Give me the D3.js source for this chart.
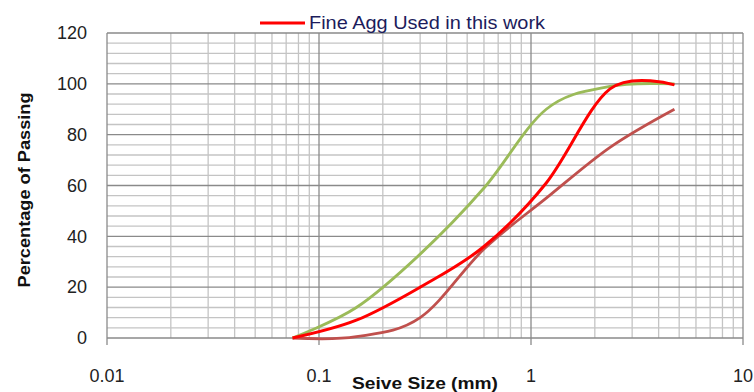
<!DOCTYPE html>
<html>
<head>
<meta charset="utf-8">
<script src="https://cdn.jsdelivr.net/npm/d3@7"></script>
<style>
  body { margin: 0; background: #fff; }
  svg { display: block; font-family: "Liberation Sans", Arial, sans-serif; }
</style>
</head>
<body>
<svg id="chart" width="754" height="392"></svg>
<script>
// DATA
const sieveSizes = [0.075, 0.15, 0.3, 0.6, 1.18, 2.36, 4.75];
const fineAgg = [0, 7, 20, 36, 61, 98, 99.6];
const upperLimit = [0, 12, 33, 59, 90, 99, 100];
const lowerLimit = [0, 0.5, 8, 35, 55, 75, 90];
const xTicks = [0.01, 0.1, 1, 10];
const xTickLabels = ["0.01", "0.1", "1", "10"];
const yTicks = [0, 20, 40, 60, 80, 100, 120];

const svg = d3.select("#chart");
const plotLeft = 107, plotRight = 743, plotTop = 33, plotBottom = 338;

const x = d3.scaleLog().domain([0.01, 10]).range([plotLeft, plotRight]);
const y = d3.scaleLinear().domain([0, 120]).range([plotBottom, plotTop]);

// GRID LINES
const minorX = [];
[0.01, 0.1, 1].forEach(d => {
  for (let i = 2; i <= 9; i++) minorX.push(d * i);
});
const minorY = d3.range(4, 120, 4).filter(v => v % 20 !== 0);

const grid = svg.append("g");
grid.selectAll(".mx").data(minorX).join("line")
  .attr("x1", d => x(d)).attr("x2", d => x(d))
  .attr("y1", plotTop).attr("y2", plotBottom)
  .attr("stroke", "#c4c4c4").attr("stroke-width", 1.3);
grid.selectAll(".my").data(minorY).join("line")
  .attr("x1", plotLeft).attr("x2", plotRight)
  .attr("y1", d => y(d)).attr("y2", d => y(d))
  .attr("stroke", "#c4c4c4").attr("stroke-width", 1.3);
grid.selectAll(".Mx").data(xTicks).join("line")
  .attr("x1", d => x(d)).attr("x2", d => x(d))
  .attr("y1", plotTop).attr("y2", plotBottom + 7)
  .attr("stroke", "#8a8a8a").attr("stroke-width", 1.3);
grid.selectAll(".My").data(yTicks).join("line")
  .attr("x1", plotLeft).attr("x2", plotRight)
  .attr("y1", d => y(d)).attr("y2", d => y(d))
  .attr("stroke", "#8a8a8a").attr("stroke-width", 1.3);

// AXIS LABELS
svg.append("g").selectAll("text").data(yTicks).join("text")
  .attr("x", 87).attr("y", d => y(d)).attr("dy", "0.35em")
  .attr("text-anchor", "end").attr("font-size", 18).attr("fill", "#222")
  .text(d => d);

svg.append("g").selectAll("text").data(xTicks).join("text")
  .attr("x", (d, i) => i === 3 ? 753 : x(d)).attr("y", 382)
  .attr("text-anchor", (d, i) => i === 3 ? "end" : "middle")
  .attr("font-size", 18).attr("fill", "#222")
  .text((d, i) => xTickLabels[i]);

svg.append("text")
  .attr("x", 425).attr("y", 389)
  .attr("text-anchor", "middle").attr("font-size", 17).attr("font-weight", "bold")
  .attr("textLength", 146).attr("lengthAdjust", "spacingAndGlyphs")
  .attr("fill", "#111")
  .text("Seive Size (mm)");

svg.append("text")
  .attr("transform", "translate(30,190) rotate(-90)")
  .attr("text-anchor", "middle").attr("font-size", 17).attr("font-weight", "bold")
  .attr("textLength", 195).attr("lengthAdjust", "spacingAndGlyphs")
  .attr("fill", "#111")
  .text("Percentage of Passing");

// SERIES
const line = vals => d3.line()
  .x((d, i) => x(sieveSizes[i]))
  .y(d => y(d))
  .curve(d3.curveCardinal.tension(0))(vals);

svg.append("path").attr("d", line(lowerLimit))
  .attr("fill", "none").attr("stroke", "#c0504d").attr("stroke-width", 2.8);
svg.append("path").attr("d", line(upperLimit))
  .attr("fill", "none").attr("stroke", "#9bbb59").attr("stroke-width", 2.8);
svg.append("path").attr("d", line(fineAgg))
  .attr("fill", "none").attr("stroke", "#ff0000").attr("stroke-width", 3);

// LEGEND
svg.append("line")
  .attr("x1", 260).attr("x2", 305).attr("y1", 23).attr("y2", 23)
  .attr("stroke", "#ff0000").attr("stroke-width", 3);
svg.append("text")
  .attr("x", 309).attr("y", 29)
  .attr("font-size", 19).attr("fill", "#1c1c5c")
  .attr("textLength", 236).attr("lengthAdjust", "spacingAndGlyphs")
  .text("Fine Agg Used in this work");
</script>
</body>
</html>
